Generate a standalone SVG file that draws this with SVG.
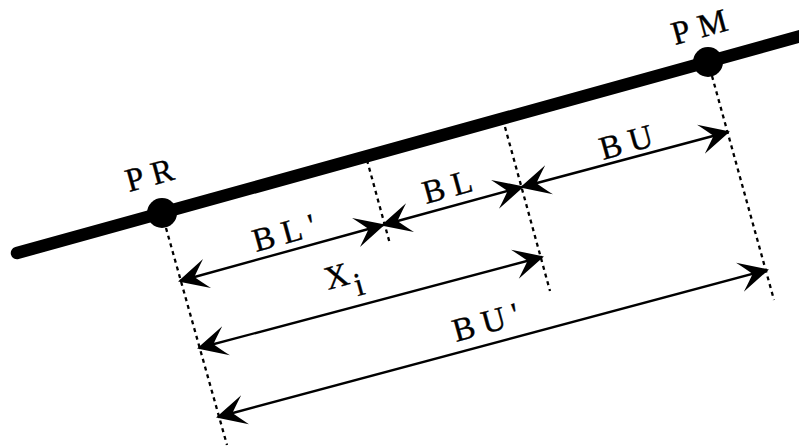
<svg xmlns="http://www.w3.org/2000/svg" width="799" height="446" viewBox="0 0 799 446">
<style>
.lbl{font-family:"Liberation Serif","Times New Roman",serif;font-size:33px;fill:#000;stroke:#000;stroke-width:0.35;letter-spacing:8px}
.dot{stroke:#000;stroke-width:2.3;stroke-dasharray:4 4;fill:none}
.arr{stroke:#000;stroke-width:2.4;fill:none;marker-start:url(#ah);marker-end:url(#ah)}
</style>
<defs>
<marker id="ah" markerUnits="userSpaceOnUse" markerWidth="34" markerHeight="34" viewBox="-32 -17 34 34" refX="0" refY="0" orient="auto-start-reverse" overflow="visible">
<path d="M2,0 L-28,-15 Q-19,-5 -15,0 Q-19,5 -28,15 Z" fill="#000"/>
</marker>
</defs>
<rect width="799" height="446" fill="#fff"/>
<g id="main-line">
<line x1="17" y1="253" x2="812" y2="33" stroke="#000" stroke-width="12.5" stroke-linecap="round"/>
</g>
<g id="PR">
<circle cx="162" cy="213" r="15" fill="#000"/>
<text class="lbl" transform="translate(129,192) rotate(-15.46)">PR</text>
</g>
<g id="PM">
<circle cx="708" cy="62" r="15" fill="#000"/>
<text class="lbl" transform="translate(675,45) rotate(-15.46)" style="letter-spacing:0">P<tspan dx="9">M</tspan></text>
</g>
<g id="connectors">
<line class="dot" x1="166" y1="228" x2="227" y2="445"/>
<line class="dot" x1="367" y1="160" x2="390" y2="244"/>
<line class="dot" x1="505" y1="127" x2="550" y2="291"/>
<line class="dot" x1="712" y1="76" x2="774" y2="300"/>
<line class="arr" x1="180" y1="281" x2="383" y2="225"/>
<line class="arr" x1="383" y1="225" x2="522" y2="187"/>
<line class="arr" x1="522" y1="187" x2="728" y2="132"/>
<line class="arr" x1="199" y1="348" x2="542" y2="257"/>
<line class="arr" x1="218" y1="417" x2="767" y2="270"/>
</g>
<g id="labels">
<text class="lbl" transform="translate(256,252) rotate(-15.46)">BL'</text>
<text class="lbl" transform="translate(426,204) rotate(-15.46)">BL</text>
<text class="lbl" transform="translate(603,160) rotate(-15.46)">BU</text>
<text class="lbl" transform="translate(328,290) rotate(-15.46)">X<tspan dx="-5" dy="14">i</tspan></text>
<text class="lbl" transform="translate(456,342) rotate(-15.46)">BU'</text>
</g>
</svg>
